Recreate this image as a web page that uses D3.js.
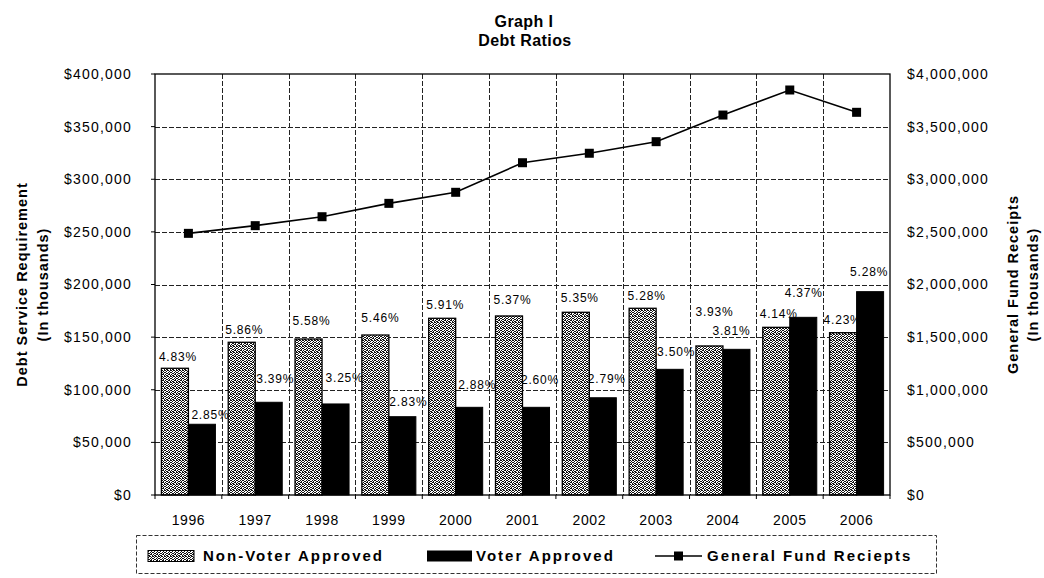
<!DOCTYPE html>
<html>
<head>
<meta charset="utf-8">
<script src="https://cdn.jsdelivr.net/npm/d3@7"></script>
<style>
  html, body { margin: 0; padding: 0; background: #fff; }
  svg { display: block; font-family: "Liberation Sans", Arial, sans-serif; }
</style>
</head>
<body>
<svg id="chart" width="1044" height="578"></svg>
<script>
// Fiscal years on the category axis
const years = ["1996", "1997", "1998", "1999", "2000", "2001", "2002", "2003", "2004", "2005", "2006"];

// Debt service requirement, in thousands of dollars (left axis)
const nonVoterApproved = [120400, 145100, 148200, 152000, 167900, 170100, 173600, 177400, 141600, 159300, 154200];
const voterApproved    = [67200, 88100, 86500, 74400, 83300, 83300, 92400, 119400, 138400, 168800, 193200];

// General fund receipts, in thousands of dollars (right axis)
const fundReceipts = [2486000, 2559000, 2644000, 2771000, 2876000, 3157000, 3247000, 3357000, 3610000, 3848000, 3636000];

// Debt service as a share of general fund receipts
const nonVoterRatio = [4.83, 5.86, 5.58, 5.46, 5.91, 5.37, 5.35, 5.28, 3.93, 4.14, 4.23];
const voterRatio    = [2.85, 3.39, 3.25, 2.83, 2.88, 2.60, 2.79, 3.50, 3.81, 4.37, 5.28];

// Axis tick values
const leftTicks  = [0, 50000, 100000, 150000, 200000, 250000, 300000, 350000, 400000];
const rightTicks = [0, 500000, 1000000, 1500000, 2000000, 2500000, 3000000, 3500000, 4000000];

const svg = d3.select("#chart");
const plot = { left: 155, right: 890, top: 74, bottom: 495 };

const x = d3.scaleBand().domain(years).range([plot.left, plot.right]).padding(0);
const xs = d3.scaleBand().domain(["nv", "v"]).range([0, x.bandwidth()])
  .paddingInner(0).paddingOuter(0.237);
const yL = d3.scaleLinear().domain([0, 400000]).range([plot.bottom, plot.top]);
const yR = d3.scaleLinear().domain([0, 4000000]).range([plot.bottom, plot.top]);
const money = v => "$" + d3.format(",")(v);

// Stippled grey fill used for the non-voter approved bars
const defs = svg.append("defs");
const tile = [
  "101100",
  "010011",
  "110100",
  "001011",
  "101101",
  "010010"
];
const pat = defs.append("pattern").attr("id", "stipple")
  .attr("width", 6).attr("height", 6).attr("patternUnits", "userSpaceOnUse");
pat.append("rect").attr("width", 6).attr("height", 6).attr("fill", "#fff");
tile.forEach((row, r) => row.split("").forEach((c, col) => {
  if (c === "1") pat.append("rect").attr("x", col).attr("y", r).attr("width", 1).attr("height", 1).attr("fill", "#111");
}));

// Title
svg.append("text").attr("x", 524).attr("y", 21).attr("dy", "0.35em").attr("text-anchor", "middle")
  .attr("font-size", 16).attr("font-weight", "bold").attr("letter-spacing", 0.4).text("Graph I");
svg.append("text").attr("x", 525).attr("y", 40).attr("dy", "0.35em").attr("text-anchor", "middle")
  .attr("font-size", 16).attr("font-weight", "bold").attr("letter-spacing", 0.4).text("Debt Ratios");

// Gridlines
const grid = svg.append("g").attr("stroke", "#222").attr("stroke-width", 1).attr("stroke-dasharray", "5,2");
grid.selectAll("line.h").data(leftTicks.slice(1, -1)).join("line").attr("class", "h")
  .attr("x1", plot.left).attr("x2", plot.right)
  .attr("y1", d => Math.round(yL(d)) + 0.5).attr("y2", d => Math.round(yL(d)) + 0.5);
grid.selectAll("line.v").data(years.slice(1)).join("line").attr("class", "v")
  .attr("x1", d => Math.round(x(d)) + 0.5).attr("x2", d => Math.round(x(d)) + 0.5)
  .attr("y1", plot.top).attr("y2", plot.bottom);

// Ratio labels sit behind the bars; each one was nudged by hand off its bar top
const nvLabelLift = [11, 12, 18, 17, 13, 16, 14, 12, 34, 14, 13];
const vLabelLift  = [9, 23, 26, 15, 23, 28, 19, 18, 19, 25, 20];
const nvLabelShift = [3, 2.5, 3, 5, 3, 3.5, 4, 4, 5, 2.5, -0.5];
const vLabelShift  = [8.5, 6.5, 9, 6, 8, 4, 4, 6.5, -5, 0.5, -1];
const labels = svg.append("g").attr("font-size", 12).attr("letter-spacing", 0.8)
  .attr("text-anchor", "middle").attr("fill", "#000");
labels.selectAll("text.nv").data(years).join("text").attr("class", "nv")
  .attr("x", (d, i) => x(d) + xs("nv") + xs.bandwidth() / 2 + nvLabelShift[i])
  .attr("y", (d, i) => yL(nonVoterApproved[i]) - nvLabelLift[i])
  .attr("dy", "0.35em")
  .text((d, i) => nonVoterRatio[i].toFixed(2) + "%");
labels.selectAll("text.v").data(years).join("text").attr("class", "v")
  .attr("x", (d, i) => x(d) + xs("v") + xs.bandwidth() / 2 + vLabelShift[i])
  .attr("y", (d, i) => yL(voterApproved[i]) - vLabelLift[i])
  .attr("dy", "0.35em")
  .text((d, i) => voterRatio[i].toFixed(2) + "%");

// Bars
const bars = svg.append("g");
bars.selectAll("rect.nv").data(years).join("rect").attr("class", "nv")
  .attr("x", (d) => x(d) + xs("nv"))
  .attr("y", (d, i) => yL(nonVoterApproved[i]))
  .attr("width", xs.bandwidth())
  .attr("height", (d, i) => plot.bottom - yL(nonVoterApproved[i]))
  .attr("fill", "url(#stipple)").attr("stroke", "#000").attr("stroke-width", 1.3);
bars.selectAll("rect.v").data(years).join("rect").attr("class", "v")
  .attr("x", (d) => x(d) + xs("v"))
  .attr("y", (d, i) => yL(voterApproved[i]))
  .attr("width", xs.bandwidth())
  .attr("height", (d, i) => plot.bottom - yL(voterApproved[i]))
  .attr("fill", "#000").attr("stroke", "#000").attr("stroke-width", 1);

// Plot frame
svg.append("rect").attr("x", plot.left).attr("y", plot.top)
  .attr("width", plot.right - plot.left).attr("height", plot.bottom - plot.top)
  .attr("fill", "none").attr("stroke", "#000").attr("stroke-width", 1.3);

// General fund receipts line with square markers
const cx = d => x(d) + x.bandwidth() / 2;
const line = d3.line().x((d, i) => cx(years[i])).y(d => yR(d));
svg.append("path").datum(fundReceipts).attr("d", line)
  .attr("fill", "none").attr("stroke", "#000").attr("stroke-width", 1.6);
svg.selectAll("rect.mk").data(fundReceipts).join("rect").attr("class", "mk")
  .attr("x", (d, i) => cx(years[i]) - 4.5).attr("y", d => yR(d) - 4.5)
  .attr("width", 9).attr("height", 9).attr("fill", "#000");

// Axes
const styleAxis = g => {
  g.select(".domain").remove();
  g.selectAll(".tick line").remove();
  g.selectAll("text").attr("font-size", 14).attr("letter-spacing", 1.2).attr("fill", "#000")
    .attr("font-family", "'Liberation Sans', Arial, sans-serif");
};
svg.append("g").attr("transform", `translate(${plot.left},0)`)
  .call(d3.axisLeft(yL).tickValues(leftTicks).tickFormat(money).tickSize(0).tickPadding(23))
  .call(styleAxis);
svg.append("g").attr("transform", `translate(${plot.right},0)`)
  .call(d3.axisRight(yR).tickValues(rightTicks).tickFormat(money).tickSize(0).tickPadding(17))
  .call(styleAxis);
svg.append("g").attr("transform", `translate(0,${plot.bottom})`)
  .call(d3.axisBottom(x).tickSize(0).tickPadding(20))
  .call(styleAxis)
  .call(g => g.selectAll("text").attr("letter-spacing", 0.6));

// Small tick marks along the left axis and the category boundaries
svg.append("g").attr("stroke", "#000").selectAll("line").data(leftTicks).join("line")
  .attr("x1", plot.left - 4).attr("x2", plot.left)
  .attr("y1", d => yL(d)).attr("y2", d => yL(d));
svg.append("g").attr("stroke", "#000").selectAll("line").data(years.concat(["end"])).join("line")
  .attr("x1", d => d === "end" ? plot.right : x(d)).attr("x2", d => d === "end" ? plot.right : x(d))
  .attr("y1", plot.bottom).attr("y2", plot.bottom + 4);

// Axis titles
const axisTitle = (cxPos, cyPos, text) => svg.append("text")
  .attr("transform", `translate(${cxPos},${cyPos}) rotate(-90)`)
  .attr("text-anchor", "middle").attr("dy", "0.35em")
  .attr("font-size", 14.5).attr("font-weight", "bold").attr("letter-spacing", 1).text(text);
const midY = (plot.top + plot.bottom) / 2;
axisTitle(22, midY, "Debt Service Requirement");
axisTitle(43, midY, "(In thousands)");
axisTitle(1013, midY, "General Fund Receipts");
axisTitle(1033, midY, "(In thousands)");

// Legend
const legend = svg.append("g");
legend.append("rect").attr("x", 136.5).attr("y", 535.5).attr("width", 800).attr("height", 38)
  .attr("fill", "#fff").attr("stroke", "#333").attr("stroke-dasharray", "4,2");
const legendY = 556;
const legendText = (xPos, text) => legend.append("text").attr("x", xPos).attr("y", legendY).attr("dy", "0.35em")
  .attr("font-size", 15).attr("font-weight", "bold").attr("letter-spacing", 2).text(text);
legend.append("rect").attr("x", 148).attr("y", legendY - 5.5).attr("width", 46).attr("height", 11)
  .attr("fill", "url(#stipple)").attr("stroke", "#000");
legendText(203, "Non-Voter Approved");
legend.append("rect").attr("x", 427).attr("y", legendY - 5.5).attr("width", 45).attr("height", 11)
  .attr("fill", "#000");
legendText(476, "Voter Approved");
legend.append("line").attr("x1", 655).attr("x2", 702).attr("y1", legendY).attr("y2", legendY)
  .attr("stroke", "#000").attr("stroke-width", 1.6);
legend.append("rect").attr("x", 674).attr("y", legendY - 4.5).attr("width", 9).attr("height", 9).attr("fill", "#000");
legendText(707, "General Fund Reciepts");
</script>
</body>
</html>
